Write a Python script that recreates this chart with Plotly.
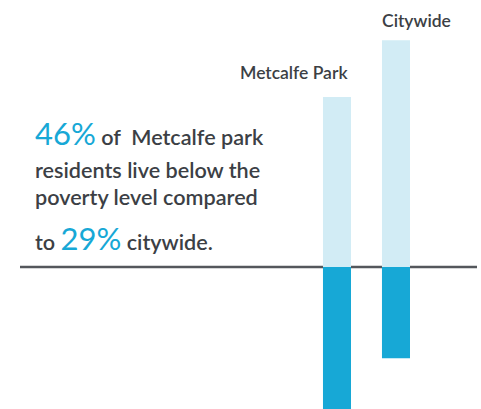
import plotly.graph_objects as go

categories = ["Metcalfe Park", "Citywide"]
poverty_pct = [46, 29]
above_pct = [54, 72]

LIGHT = "#d2ecf5"
DARK = "#17a8d6"
TEXT = "#3c3f45"
FONT = "Lato"

fig = go.Figure()
fig.add_trace(go.Bar(x=categories, y=above_pct, marker=dict(color=LIGHT, line=dict(width=0)),
                     width=0.475, hoverinfo="skip"))
fig.add_trace(go.Bar(x=categories, y=[-v for v in poverty_pct], marker=dict(color=DARK, line=dict(width=0)),
                     width=0.475, hoverinfo="skip"))

fig.add_shape(type="line", xref="paper", yref="y", x0=20/481, x1=477/481, y0=0, y1=0,
              line=dict(color="#54575c", width=2.5), layer="below")

fig.add_annotation(x=categories[0], y=61.6, text="Metcalfe Park", showarrow=False,
                   xanchor="right", xshift=13, yanchor="middle",
                   font=dict(family=FONT, size=17.5, color=TEXT, weight=600))
fig.add_annotation(x=categories[1], y=78.4, text="Citywide", showarrow=False,
                   xanchor="left", xshift=-16, yanchor="middle",
                   font=dict(family=FONT, size=17.5, color=TEXT, weight=600))

big = "<span style='color:%s;font-size:31px;font-weight:400'>%s</span>"
lines = [
    (big % (DARK, "46%") + " of  Metcalfe park", 133),
    ("residents live below the", 170),
    ("poverty level compared", 197),
    ("to " + big % (DARK, "29%") + " citywide.", 238),
]
for txt, ypx in lines:
    fig.add_annotation(xref="paper", yref="paper", x=33/481, y=1 - ypx/409, text=txt,
                       showarrow=False, xanchor="left", yanchor="middle", align="left",
                       font=dict(family=FONT, size=21.6, color=TEXT, weight=600))

fig.update_layout(
    width=481, height=409, margin=dict(l=0, r=0, t=0, b=0),
    paper_bgcolor="white", plot_bgcolor="white",
    barmode="overlay", showlegend=False,
    xaxis=dict(type="category", range=[-5.712, 2.441], visible=False, fixedrange=True),
    yaxis=dict(range=[-45.08, 84.76], visible=False, fixedrange=True),
)
fig.write_html("out.html")
